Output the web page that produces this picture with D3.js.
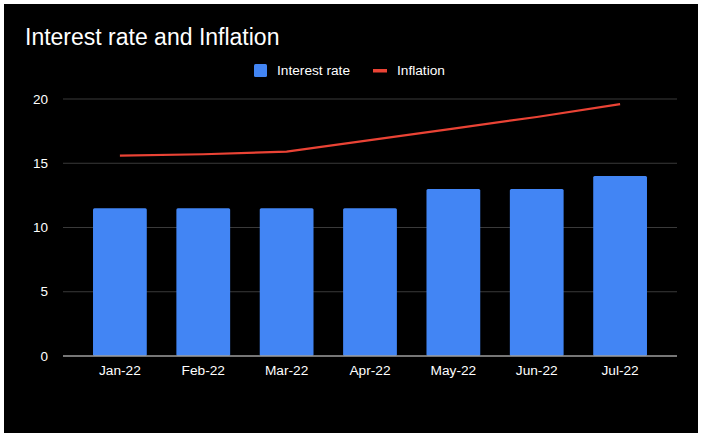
<!DOCTYPE html>
<html lang="en">
<head>
<meta charset="UTF-8">
<title>Interest rate and Inflation</title>
<script src="https://cdn.jsdelivr.net/npm/d3@7"></script>
<style>
  body { margin: 0; background: #fff; }
  text { font-family: "Liberation Sans", Arial, sans-serif; fill: #fff; }
</style>
</head>
<body>
<script>
// chart data
const months = ["Jan-22", "Feb-22", "Mar-22", "Apr-22", "May-22", "Jun-22", "Jul-22"];
const interestRate = [11.5, 11.5, 11.5, 11.5, 13, 13, 14];
const inflation = [15.6, 15.7, 15.9, 16.8, 17.7, 18.6, 19.6];
const yTicks = [0, 5, 10, 15, 20];

const width = 701, height = 439;

const svg = d3.select("body").append("svg")
    .attr("width", width).attr("height", height);

// black card with thin white margin
svg.append("rect")
    .attr("x", 4).attr("y", 4)
    .attr("width", 694).attr("height", 429)
    .attr("fill", "#000");

const x = d3.scaleBand().domain(months).range([63, 677]).paddingInner(0.355).paddingOuter(0.36);
const y = d3.scaleLinear().domain([0, 20]).range([356, 99]);

// title
svg.append("text")
    .attr("x", 25).attr("y", 45)
    .attr("font-size", "23px")
    .text("Interest rate and Inflation");

// legend
const legend = svg.append("g");
legend.append("rect")
    .attr("x", 254).attr("y", 64).attr("width", 13).attr("height", 13)
    .attr("rx", 1.5).attr("fill", "#4285f4");
legend.append("text")
    .attr("x", 277).attr("y", 75).attr("font-size", "13.7px")
    .text("Interest rate");
legend.append("rect")
    .attr("x", 373).attr("y", 69).attr("width", 14).attr("height", 3.5)
    .attr("fill", "#ea4335");
legend.append("text")
    .attr("x", 397).attr("y", 75).attr("font-size", "13.7px")
    .text("Inflation");

// gridlines + y labels
const grid = svg.append("g");
grid.selectAll("line").data(yTicks.filter(d => d !== 0)).enter().append("line")
    .attr("x1", 63).attr("x2", 677)
    .attr("y1", d => y(d)).attr("y2", d => y(d))
    .attr("stroke", "#3a3a3a").attr("stroke-width", 1);

svg.append("g").selectAll("text").data(yTicks).enter().append("text")
    .attr("x", 48).attr("y", d => y(d))
    .attr("dy", "0.35em")
    .attr("text-anchor", "end")
    .attr("font-size", "13.5px")
    .text(d => d);

// bars
svg.append("g").selectAll("rect").data(interestRate).enter().append("rect")
    .attr("x", (d, i) => x(months[i]))
    .attr("y", d => y(d))
    .attr("width", x.bandwidth())
    .attr("height", d => y(0) - y(d))
    .attr("rx", 1.5)
    .attr("fill", "#4285f4");

// baseline
svg.append("line")
    .attr("x1", 63).attr("x2", 677)
    .attr("y1", y(0)).attr("y2", y(0))
    .attr("stroke", "#9e9e9e").attr("stroke-width", 1.5);

// x labels
svg.append("g").selectAll("text").data(months).enter().append("text")
    .attr("x", d => x(d) + x.bandwidth() / 2)
    .attr("y", 375)
    .attr("text-anchor", "middle")
    .attr("font-size", "13.7px")
    .text(d => d);

// inflation line
const line = d3.line()
    .x((d, i) => x(months[i]) + x.bandwidth() / 2)
    .y(d => y(d));

svg.append("path")
    .datum(inflation)
    .attr("d", line)
    .attr("fill", "none")
    .attr("stroke", "#ea4335")
    .attr("stroke-width", 2.2);
</script>
</body>
</html>
